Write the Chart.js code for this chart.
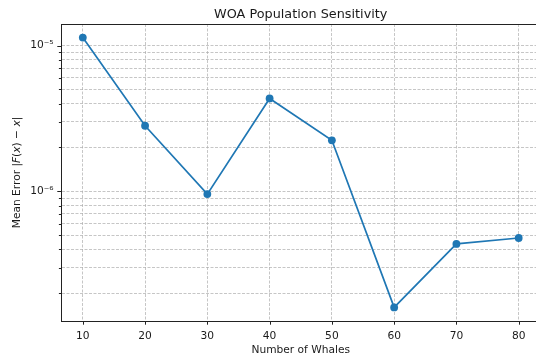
<!DOCTYPE html>
<html>
<head>
<meta charset="utf-8">
<script src="https://cdn.jsdelivr.net/npm/chart.js@4"></script>
<style>
  html, body { margin: 0; padding: 0; background: #fff; }
  #wrap { width: 536px; height: 362px; }
</style>
</head>
<body>
<div id="wrap"><canvas id="sens" width="536" height="362"></canvas></div>
<script>
// Mean error per whale population size
const whales = [10, 20, 30, 40, 50, 60, 70, 80];
const meanError = [1.135e-5, 2.82e-6, 9.58e-7, 4.34e-6, 2.24e-6, 1.60e-7, 4.36e-7, 4.79e-7];

const xTicks = [10, 20, 30, 40, 50, 60, 70, 80];
// decades plus the 2..9 minors between them
const yTicks = [2e-7, 3e-7, 4e-7, 5e-7, 6e-7, 7e-7, 8e-7, 9e-7,
                1e-6, 2e-6, 3e-6, 4e-6, 5e-6, 6e-6, 7e-6, 8e-6, 9e-6, 1e-5];
const yMajor = [1e-6, 1e-5];
const yLabels = ['10⁻⁶', '10⁻⁵'];

const titleText = 'WOA Population Sensitivity';
const xTitle = 'Number of Whales';

// x range; the axes run a bit past the right canvas edge
const X_MIN = 6.5, X_MAX = 83.5, X_EDGE = 82.78;

const FONT = 'DejaVu Sans';
const TXT = '#1a1a1a';
const BLUE = '#1f77b4';

function majorIndex(v) {
  return yMajor.findIndex(m => Math.abs(v / m - 1) < 1e-6);
}

const gridOpts = {
  color: 'rgba(176,176,176,0.9)',
  lineWidth: 0.8,
  drawTicks: false
};
// in v4 the dash of the grid lines lives under border
const borderOpts = { display: true, color: '#222', width: 1, dash: [3, 1.5] };

// frame on top, tick marks, titles centred on the full axes, y label with italics
const decor = {
  id: 'decor',
  afterDraw(chart) {
    const c = chart.ctx;
    const a = chart.chartArea;
    const xs = chart.scales.x, ys = chart.scales.y;
    c.save();
    c.strokeStyle = '#222';
    c.lineWidth = 1;
    c.beginPath();
    c.moveTo(a.left, a.top + 0.5);
    c.lineTo(a.right, a.top + 0.5);
    c.stroke();

    c.beginPath();
    xTicks.forEach(v => {
      const px = Math.round(xs.getPixelForValue(v)) + 0.5;
      c.moveTo(px, a.bottom);
      c.lineTo(px, a.bottom + 3.7);
    });
    yTicks.forEach(v => {
      const py = Math.round(ys.getPixelForValue(v)) + 0.5;
      const len = majorIndex(v) >= 0 ? 3.7 : 2.1;
      c.moveTo(a.left, py);
      c.lineTo(a.left - len, py);
    });
    c.stroke();

    const cx = xs.getPixelForValue((X_MIN + X_MAX) / 2);
    c.fillStyle = TXT;
    c.textAlign = 'center';
    c.textBaseline = 'alphabetic';
    c.font = '12.8px "' + FONT + '"';
    c.fillText(titleText, cx, 17.5);
    c.font = '10.65px "' + FONT + '"';
    c.fillText(xTitle, cx, 352.7);

    // "Mean Error |F(x) − x|"
    const parts = [
      ['Mean Error |', false], ['F', true], ['(', false], ['x', true],
      [') − ', false], ['x', true], ['|', false]
    ];
    const size = 10.65;
    let total = 0;
    parts.forEach(p => {
      c.font = (p[1] ? 'italic ' : '') + size + 'px "' + FONT + '"';
      total += c.measureText(p[0]).width;
    });
    c.translate(19.5, (a.top + a.bottom) / 2);
    c.rotate(-Math.PI / 2);
    c.textAlign = 'left';
    let x = -total / 2;
    parts.forEach(p => {
      c.font = (p[1] ? 'italic ' : '') + size + 'px "' + FONT + '"';
      c.fillText(p[0], x, 0);
      x += c.measureText(p[0]).width;
    });
    c.restore();
  }
};

new Chart(document.getElementById('sens'), {
  type: 'line',
  data: {
    labels: whales,
    datasets: [{
      data: whales.map((w, i) => ({ x: w, y: meanError[i] })),
      borderColor: BLUE,
      backgroundColor: BLUE,
      borderWidth: 1.7,
      pointRadius: 3.9,
      pointHoverRadius: 3.9,
      pointBorderWidth: 0,
      tension: 0
    }]
  },
  options: {
    responsive: false,
    animation: false,
    devicePixelRatio: 1,
    layout: { padding: { top: 24, left: 0, right: 0, bottom: 0 }, autoPadding: false },
    plugins: {
      legend: { display: false },
      tooltip: { enabled: false },
      title: { display: false }
    },
    scales: {
      x: {
        type: 'linear',
        min: X_MIN,
        max: X_EDGE,
        afterBuildTicks: s => { s.ticks = xTicks.map(v => ({ value: v })); },
        afterFit: s => {
          s.height = 41;
          s.paddingLeft = 0;
          s.paddingRight = 0;
        },
        grid: gridOpts,
        border: borderOpts,
        ticks: {
          padding: 8.4,
          color: TXT,
          font: { family: FONT, size: 10.65 },
          maxRotation: 0,
          callback: v => String(v)
        }
      },
      y: {
        type: 'logarithmic',
        min: 1.291e-7,
        max: 1.406e-5,
        afterBuildTicks: s => { s.ticks = yTicks.map(v => ({ value: v })); },
        afterFit: s => {
          s.width = 61;
          s.paddingTop = 0;
          s.paddingBottom = 0;
        },
        grid: gridOpts,
        border: borderOpts,
        ticks: {
          padding: 7.4,
          color: TXT,
          font: { family: FONT, size: 10.65 },
          autoSkip: false,
          callback: v => {
            const i = majorIndex(v);
            return i >= 0 ? yLabels[i] : '';
          }
        }
      }
    }
  },
  plugins: [decor]
});
</script>
</body>
</html>
